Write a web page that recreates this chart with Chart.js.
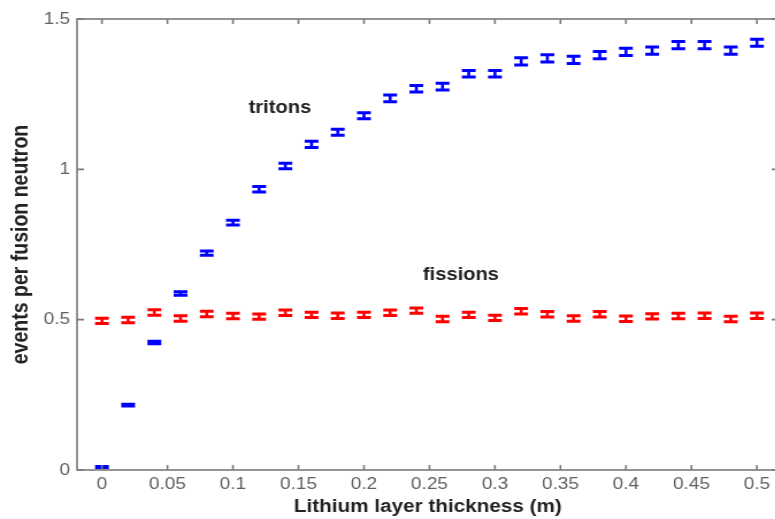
<!DOCTYPE html>
<html>
<head>
<meta charset="utf-8">
<script src="https://cdn.jsdelivr.net/npm/chart.js@4.4.1/dist/chart.umd.min.js"></script>
<style>
  html, body { margin: 0; padding: 0; background: #fff; overflow: hidden; }
  /* the source figure is stretched sideways, so the whole canvas is too */
  #wrap { position: relative; width: 677px; height: 519px; transform: scaleX(1.15); transform-origin: 0 0; }
</style>
</head>
<body>
<div id="wrap"><canvas id="chart"></canvas></div>
<script>
const thickness = [0, 0.02, 0.04, 0.06, 0.08, 0.1, 0.12, 0.14, 0.16, 0.18, 0.2, 0.22, 0.24,
  0.26, 0.28, 0.3, 0.32, 0.34, 0.36, 0.38, 0.4, 0.42, 0.44, 0.46, 0.48, 0.5];

const tritons = [0.010, 0.216, 0.424, 0.587, 0.721, 0.823, 0.934, 1.011, 1.083, 1.123, 1.178, 1.236, 1.268,
  1.275, 1.318, 1.318, 1.359, 1.369, 1.364, 1.380, 1.391, 1.395, 1.413, 1.413, 1.395, 1.421];
const tritonErr = [0.002, 0.003, 0.004, 0.006, 0.007, 0.008, 0.009, 0.009, 0.010, 0.010, 0.010, 0.011, 0.011,
  0.011, 0.011, 0.011, 0.012, 0.012, 0.012, 0.012, 0.012, 0.012, 0.012, 0.012, 0.012, 0.012];

const fissions = [0.496, 0.499, 0.524, 0.504, 0.519, 0.512, 0.510, 0.523, 0.516, 0.513, 0.516, 0.523, 0.530,
  0.502, 0.516, 0.506, 0.528, 0.518, 0.504, 0.518, 0.503, 0.511, 0.512, 0.513, 0.502, 0.513];
const fissionErr = [0.009, 0.009, 0.009, 0.009, 0.009, 0.009, 0.009, 0.009, 0.009, 0.009, 0.009, 0.009, 0.009,
  0.009, 0.009, 0.009, 0.009, 0.009, 0.009, 0.009, 0.009, 0.009, 0.009, 0.009, 0.009, 0.009];

const xTitle = "Lithium layer thickness (m)";
const yTitle = "events per fusion neutron";
const labels = [
  { text: "tritons", x: 0.112, y: 1.204 },
  { text: "fissions", x: 0.245, y: 0.648 },
];

const AXIS_COLOR = "#7a7a7a";
const TICK_FONT = { family: "'Liberation Sans', Arial, sans-serif", size: 16.5 };
const TITLE_FONT = { family: "'Liberation Sans', Arial, sans-serif", size: 18, weight: "bold" };

function toPoints(values) {
  return thickness.map((x, i) => ({ x, y: values[i] }));
}

// draws the box, the inward ticks, the error bars and the two text labels
const matlabPlugin = {
  id: "matlab",
  afterDatasetsDraw(chart) {
    const { ctx, chartArea: area, scales } = chart;
    const errors = [tritonErr, fissionErr];
    const values = [tritons, fissions];

    ctx.save();
    chart.data.datasets.forEach((ds, d) => {
      const meta = chart.getDatasetMeta(d);
      ctx.strokeStyle = ds.borderColor;
      meta.data.forEach((pt, i) => {
        const top = scales.y.getPixelForValue(values[d][i] + errors[d][i]);
        const bottom = scales.y.getPixelForValue(values[d][i] - errors[d][i]);
        ctx.lineWidth = 2.6;
        ctx.beginPath();
        ctx.moveTo(pt.x, top);
        ctx.lineTo(pt.x, bottom);
        ctx.stroke();
        ctx.lineWidth = 3;
        ctx.beginPath();
        ctx.moveTo(pt.x - 6, top);
        ctx.lineTo(pt.x + 6, top);
        ctx.moveTo(pt.x - 6, bottom);
        ctx.lineTo(pt.x + 6, bottom);
        ctx.stroke();
      });
    });

    ctx.strokeStyle = AXIS_COLOR;
    ctx.lineWidth = 1.6;
    ctx.strokeRect(area.left, area.top, area.right - area.left, area.bottom - area.top);

    ctx.beginPath();
    scales.x.ticks.forEach((t) => {
      const px = scales.x.getPixelForValue(t.value);
      ctx.moveTo(px, area.bottom);
      ctx.lineTo(px, area.bottom - 5);
      ctx.moveTo(px, area.top);
      ctx.lineTo(px, area.top + 5);
    });
    scales.y.ticks.forEach((t) => {
      const py = scales.y.getPixelForValue(t.value);
      ctx.moveTo(area.left, py);
      ctx.lineTo(area.left + 6, py);
      ctx.moveTo(area.right, py);
      ctx.lineTo(area.right - 6, py);
    });
    ctx.stroke();

    ctx.fillStyle = "#222";
    ctx.font = "bold 17.5px 'Liberation Sans', Arial, sans-serif";
    ctx.textAlign = "left";
    ctx.textBaseline = "middle";
    labels.forEach((l) => {
      ctx.fillText(l.text, scales.x.getPixelForValue(l.x), scales.y.getPixelForValue(l.y));
    });
    ctx.restore();
  },
};

new Chart(document.getElementById("chart"), {
  type: "scatter",
  data: {
    datasets: [
      { label: "tritons", data: toPoints(tritons), borderColor: "#0000ff", backgroundColor: "#0000ff", pointRadius: 0 },
      { label: "fissions", data: toPoints(fissions), borderColor: "#ff0000", backgroundColor: "#ff0000", pointRadius: 0 },
    ],
  },
  options: {
    responsive: true,
    maintainAspectRatio: false,
    animation: false,
    devicePixelRatio: 1,
    layout: { padding: { top: 19, right: 0, left: 0, bottom: 0 } },
    plugins: { legend: { display: false }, tooltip: { enabled: false } },
    scales: {
      x: {
        type: "linear",
        min: -0.019,
        max: 0.5165,
        afterFit(scale) { scale.height = 49; },
        grid: { display: false, drawTicks: false },
        border: { display: false },
        ticks: {
          stepSize: 0.05,
          includeBounds: false,
          autoSkip: false,
          maxRotation: 0,
          padding: 5,
          color: "#606060",
          font: TICK_FONT,
          callback: (v) => String(+v.toFixed(2)),
        },
        title: { display: true, text: xTitle, color: "#222", font: TITLE_FONT, padding: { top: 0, bottom: 1 } },
      },
      y: {
        min: 0,
        max: 1.5,
        afterFit(scale) { scale.width = 67; },
        grid: { display: false, drawTicks: false },
        border: { display: false },
        ticks: {
          stepSize: 0.5,
          padding: 6,
          color: "#606060",
          font: TICK_FONT,
          callback: (v) => String(+v.toFixed(1)),
        },
        title: { display: true, text: yTitle, color: "#222", font: { ...TITLE_FONT, size: 19.5 }, padding: { top: 7, bottom: 0 } },
      },
    },
  },
  plugins: [matlabPlugin],
});
</script>
</body>
</html>
